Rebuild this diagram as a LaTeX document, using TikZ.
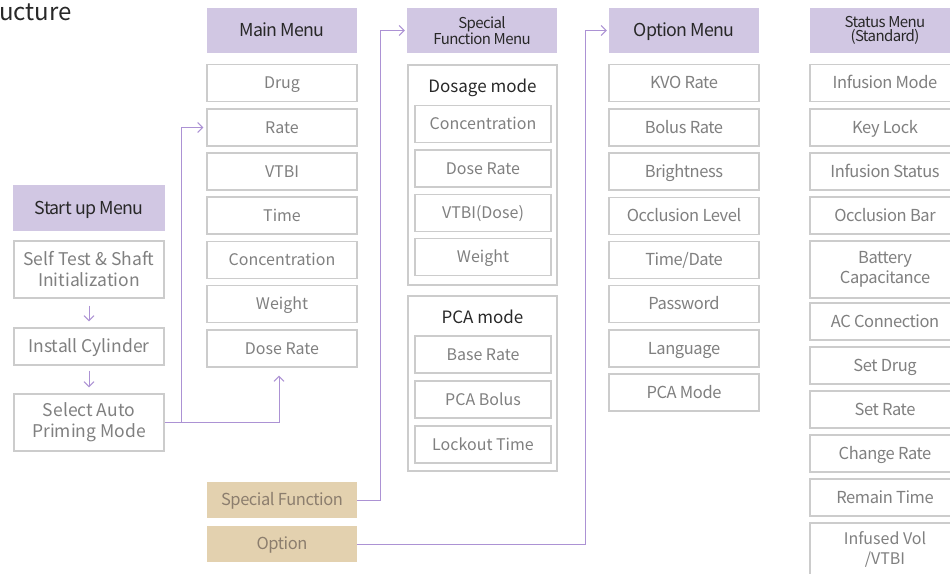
\documentclass[tikz,border=0pt]{standalone}
\usepackage{fontspec}
\setmainfont{Noto Sans CJK KR}
\newfontfamily\tightfont[LetterSpace=-2.5]{Noto Sans CJK KR}
\newfontfamily\headfont[LetterSpace=-4]{Noto Sans CJK KR}
\usetikzlibrary{arrows.meta}
\usetikzlibrary{positioning}

\definecolor{headfill}{RGB}{209,199,227}
\definecolor{linkcol}{RGB}{172,146,212}
\definecolor{funcfill}{RGB}{227,209,175}
\definecolor{functext}{RGB}{140,126,110}
\definecolor{boxline}{RGB}{204,204,204}
\definecolor{itemtext}{RGB}{128,128,128}
\definecolor{darktext}{RGB}{40,40,40}

\begin{document}
\begin{tikzpicture}[x=1pt,y=-1pt,
  head/.style={fill=headfill,draw=none,minimum width=150pt,minimum height=45pt,inner sep=0pt,align=center,text=darktext,text height=12.5pt,text depth=0pt,font=\headfont\fontsize{17.8}{18}\selectfont},
  smallhead/.style={head,text height=,text depth=,font=\headfont\fontsize{15}{13.5}\selectfont},
  item/.style={draw=boxline,line width=1.3pt,fill=white,minimum width=150pt,minimum height=37pt,inner sep=0pt,align=center,text=itemtext,text height=11.5pt,text depth=0pt,font=\fontsize{16}{20}\selectfont},
  tallitem/.style={item,minimum height=57pt,text height=,text depth=},
  startitem/.style={item,font=\fontsize{17.5}{21}\selectfont},
  tightitem/.style={item,font=\tightfont\fontsize{16.5}{20}\selectfont},
  inner/.style={item,minimum width=136pt},
  group/.style={draw=boxline,line width=1.3pt,minimum width=149pt,inner sep=0pt},
  grouptitle/.style={text=darktext,text height=12pt,text depth=0pt,inner sep=0pt,font=\fontsize{17}{20}\selectfont},
  func/.style={fill=funcfill,draw=none,minimum width=150pt,minimum height=36pt,inner sep=0pt,text=functext,text height=11.5pt,text depth=0pt,font=\tightfont\fontsize{16.5}{20}\selectfont},
  link/.style={draw=linkcol,line width=1pt,-{Straight Barb[length=5pt,width=10pt]}}]
\useasboundingbox (0,0) rectangle (950,573);
\clip (0,0) rectangle (950,573);

% title
\node[anchor=base west,inner sep=0pt,text=darktext,font=\fontsize{24}{26}\selectfont] (title) at (-1,20) {ucture};

% start up menu
\node[head,minimum width=152pt,minimum height=46pt] (shead) at (89,208) {Start up Menu};
\node[startitem,minimum height=57pt,text height=,text depth=] (selftest) at (89,269.5) {Self Test \& Shaft\\Initialization};
\node[startitem] (install) at (89,346.5) {Install Cylinder};
\node[startitem,minimum height=57pt,text height=,text depth=] (prime) at (89,422.5) {Select Auto\\Priming Mode};

% main menu
\node[head] (mhead) at (282,30.5) {Main Menu};
\node[item] (mdrug) at (282,83) {Drug};
\node[item] (mrate) at (282,127.5) {Rate};
\node[item] (mvtbi) at (282,171.5) {VTBI};
\node[item] (mtime) at (282,215.5) {Time};
\node[item] (mconc) at (282,260) {Concentration};
\node[item] (mweight) at (282,304) {Weight};
\node[item] (mdose) at (282,348.5) {Dose Rate};
\node[func] (sfunc) at (282,500) {Special Function};
\node[func] (opt) at (282,544) {Option};

% special function menu
\node[smallhead] (fhead) at (482,30.5) {Special\\Function Menu};
\node[group,minimum height=220pt] (dosage) at (482.5,175) {};
\node[grouptitle] (dosagetitle) at (482.5,86) {Dosage mode};
\node[inner] (fconc) at (483,124) {Concentration};
\node[inner] (fdose) at (483,168.5) {Dose Rate};
\node[inner] (fvtbi) at (483,213) {VTBI(Dose)};
\node[inner] (fweight) at (483,257) {Weight};
\node[group,minimum height=175pt] (pca) at (482.5,383.5) {};
\node[grouptitle] (pcatitle) at (482.5,317) {PCA mode};
\node[inner] (fbase) at (483,354.5) {Base Rate};
\node[inner] (fbolus) at (483,399.5) {PCA Bolus};
\node[inner] (flock) at (483,444.5) {Lockout Time};

% option menu
\node[head] (ohead) at (684,30.5) {Option Menu};
\node[tightitem] (okvo) at (684,83) {KVO Rate};
\node[tightitem] (obolus) at (684,127.5) {Bolus Rate};
\node[tightitem] (obright) at (684,171.5) {Brightness};
\node[tightitem] (oocc) at (684,216) {Occlusion Level};
\node[tightitem] (otime) at (684,260) {Time/Date};
\node[tightitem] (opass) at (684,304) {Password};
\node[tightitem] (olang) at (684,348.5) {Language};
\node[tightitem] (opca) at (684,392.5) {PCA Mode};

% status menu
\node[smallhead] (sthead) at (885,30.5) {Status Menu\\(Standard)};
\node[tightitem] (stmode) at (885,83) {Infusion Mode};
\node[tightitem] (stlock) at (885,127.5) {Key Lock};
\node[tightitem] (ststatus) at (885,171.5) {Infusion Status};
\node[tightitem] (stbar) at (885,215.5) {Occlusion Bar};
\node[tallitem,font=\tightfont\fontsize{16.5}{20}\selectfont] (stbatt) at (885,269.5) {Battery\\Capacitance};
\node[tightitem] (stac) at (885,321.5) {AC Connection};
\node[tightitem] (stdrug) at (885,365.5) {Set Drug};
\node[tightitem] (strate) at (885,409.5) {Set Rate};
\node[tightitem] (stchange) at (885,453.5) {Change Rate};
\node[tightitem] (stremain) at (885,497.5) {Remain Time};
\node[tallitem,minimum height=52pt] (stinfused) at (885,549) {Infused Vol\\/VTBI};

% connectors
\draw[link,shorten <=7pt,shorten >=6pt] (selftest) -- (install);
\draw[link,shorten <=5pt,shorten >=6pt] (install) -- (prime);
\coordinate (branch) at (181,422.5);
\draw[link,shorten >=8pt] (prime.east) -| ([xshift=-3pt]mdose.south);
\draw[link,shorten >=3pt] (branch) |- (mrate.west);
\draw[link,shorten >=2pt] (sfunc.east) -| ([xshift=-26pt]fhead.west) -- (fhead.west);
\draw[link,shorten >=2pt] (opt.east) -| ([xshift=-23pt]ohead.west) -- (ohead.west);

\end{tikzpicture}
\end{document}
